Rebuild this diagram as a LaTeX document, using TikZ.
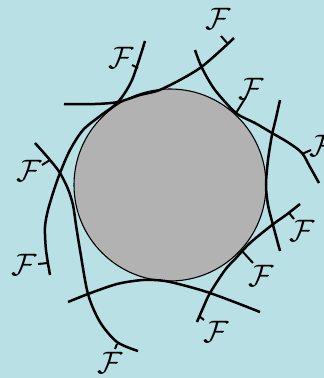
\documentclass[tikz,border=0pt]{standalone}
\definecolor{bgblue}{RGB}{185,224,228}
\tikzset{leaf/.style={line width=2.5pt},
  tick/.style={line width=2pt},
  flabel/.style={scale=3.1,inner sep=0pt}}
\begin{document}
\begin{tikzpicture}[x=1pt,y=-1pt]
  \fill[bgblue] (0,0) rectangle (324,378);
  \useasboundingbox (0,0) rectangle (324,378);
  \filldraw[fill=black!30,line width=1.1pt] (170,185) circle[radius=96];
  % leaves touching the disc
  \draw[leaf] plot[smooth] coordinates {(64,104) (95,104) (118,102) (140,95) (162,89) (200,68) (234,38)};
  \draw[leaf] plot[smooth] coordinates {(50,275) (46,250) (45,227) (48,210) (54,190) (60,173) (70,150) (83,130) (100,116) (118,102) (132,80) (145,41)};
  \draw[leaf] plot[smooth] coordinates {(35,143) (50,160) (60,173) (68,189) (73,205) (76,225) (80,250) (88,294) (100,322) (117,342) (138,351)};
  \draw[leaf] plot[smooth] coordinates {(195,50) (202,68) (215,90) (236,113) (255,123) (272,133) (289,143) (302,153) (310,167) (319,183)};
  \draw[leaf] plot[smooth] coordinates {(280,100) (276,118) (272,135) (268,160) (266,185) (268,205) (273,225) (280,251)};
  \draw[leaf] plot[smooth] coordinates {(300,204) (286,215) (272,225) (250,243) (236,258) (225,270) (210,293) (203,308) (197,322)};
  \draw[leaf] plot[smooth] coordinates {(68,302) (88,294) (117,284) (143,280) (165,281) (190,287) (210,293) (237,303) (260,312)};
  % ticks and labels
  \foreach \xa/\ya/\xb/\yb/\xl/\yl [count=\i] in {138/68/132/65/121/58, 228/44/221/36/218/19,
      236/113/246/97/251/89, 302/154/311/150/322/146, 289/213/294/219/302/231,
      242/251/253/263/261/276, 199/316/204/320/216/332, 117/344/115/349/110/363,
      48/263/38/264/24/265, 50/160/42/165/29/171} {
    \draw[tick] (\xa,\ya) -- (\xb,\yb);
    \node[flabel] (f\i) at (\xl,\yl) {$\mathcal{F}$};
  }
\end{tikzpicture}
\end{document}
